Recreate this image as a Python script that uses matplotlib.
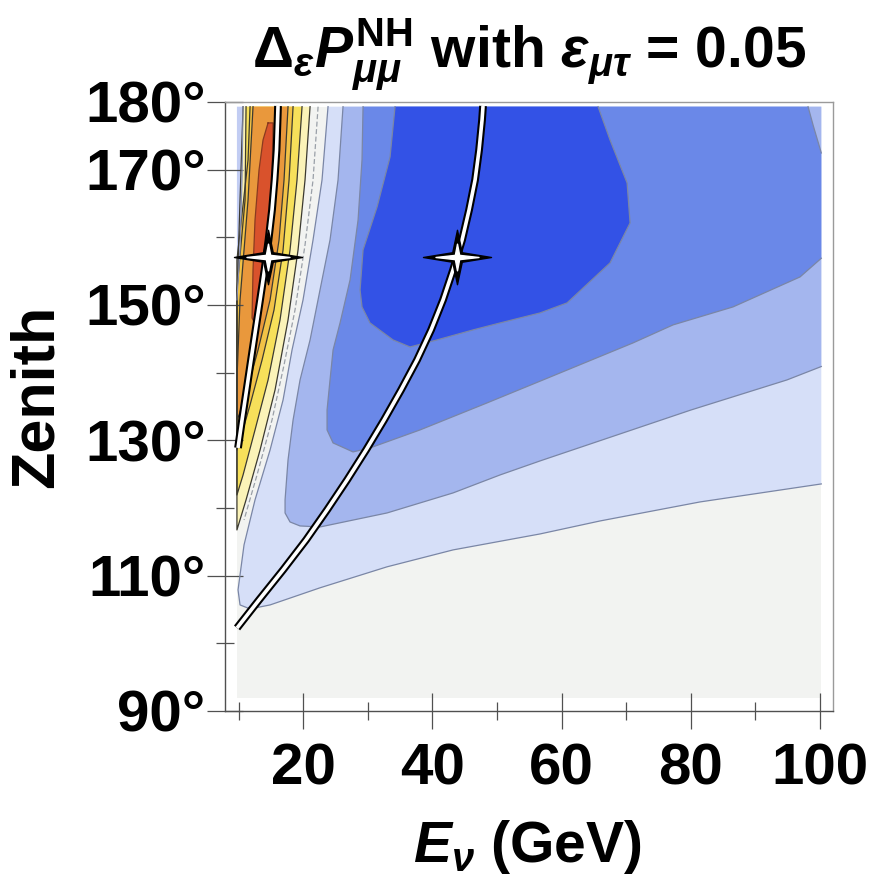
import matplotlib
matplotlib.use("Agg")
import matplotlib.pyplot as plt
from matplotlib.path import Path

plt.rcParams["font.family"] = ["Liberation Sans", "DejaVu Sans"]
plt.rcParams["font.weight"] = "bold"
plt.rcParams["mathtext.fontset"] = "custom"
plt.rcParams["mathtext.rm"] = "Liberation Sans:bold"
plt.rcParams["mathtext.it"] = "Liberation Sans:bold:italic"
plt.rcParams["mathtext.bf"] = "Liberation Sans:bold"
plt.rcParams["mathtext.fallback"] = "stixsans"

# plotted region (energy in GeV, zenith in degrees)
e_min, e_max = 9.75, 100.2
z_min, z_max = 91.9, 179.3

# blue contour levels: left arm from the top, round the tip, out to the right edge
lev1_e = [23.85, 22.92, 21.53, 19.98, 18.28, 16.89, 14.88, 12.55, 10.85, 9.92, 10.23, 11.78, 14.88, 22.61, 32.98, 43.20, 56.67, 65.96, 81.43, 100.2]
lev1_z = [179.3, 168.47, 159.61, 150.74, 143.35, 135.96, 128.57, 121.19, 114.54, 107.89, 105.67, 105.08, 105.67, 108.2, 111.3, 113.80, 116.16, 118.08, 120.89, 123.55]

lev2_e = [26.17, 25.40, 24.16, 22.61, 21.07, 19.52, 18.44, 17.66, 17.20, 17.20, 17.97, 19.52, 22.61, 32.98, 43.20, 50.48, 56.67, 80.04, 94.89, 100.2]
lev2_z = [179.3, 168.47, 159.61, 152.22, 144.83, 138.92, 133.0, 127.10, 121.19, 119.26, 117.93, 117.34, 117.19, 119.26, 122.22, 124.88, 126.95, 134.48, 138.92, 140.9]

lev3_e = [29.27, 29.11, 28.50, 27.26, 25.71, 24.63, 24.16, 23.70, 23.70, 24.63, 27.72, 30.35, 38.09, 48.46, 57.14, 71.06, 77.25, 86.54, 96.91, 100.2]
lev3_z = [179.3, 171.43, 162.56, 153.70, 147.34, 143.35, 138.92, 134.48, 131.53, 129.61, 128.28, 128.87, 131.53, 135.52, 138.92, 144.39, 147.05, 149.71, 154.14, 156.9]
# small piece of level 3 edge in the top right corner
lev3c_e = [100.2, 98.92, 98.15]
lev3c_z = [172.46, 176.6, 179.3]

lev4_e = [34.22, 33.45, 31.44, 29.27, 28.81, 29.11, 30.35, 33.91, 36.54, 40.72, 46.30, 50.48, 56.67, 60.85, 67.50, 70.60, 70.14, 67.50, 65.65]
lev4_z = [179.3, 171.87, 164.48, 158.13, 152.22, 149.71, 147.34, 144.83, 143.79, 144.83, 146.31, 147.34, 148.82, 150.30, 156.21, 162.12, 168.03, 174.38, 179.3]

# faint dashed contour inside the pale strip
dash_e = [22.31, 21.53, 20.29, 18.74, 17.04, 15.18, 12.86, 10.85]
dash_z = [179.3, 168.47, 158.87, 149.26, 141.13, 133.0, 124.88, 118.23]

# warm bands near the left edge: right arm (top -> left edge), left arm (left edge -> top)
warm1_e = [21.07, 20.29, 19.21, 17.66, 15.65, 13.33, 11.16, 9.75, 9.75, 10.23, 10.70]
warm1_z = [179.3, 168.47, 158.13, 147.78, 137.44, 128.57, 121.19, 116.75, 150.74, 165.52, 179.3]
warm2_e = [19.83, 19.05, 17.97, 16.42, 14.57, 12.55, 10.70, 9.75, 9.75, 11.01, 11.16]
warm2_z = [179.3, 168.47, 158.13, 147.78, 138.92, 131.53, 124.88, 121.92, 152.22, 165.52, 179.3]
warm3_e = [18.44, 17.82, 16.89, 15.49, 13.64, 11.78, 10.23, 9.75, 9.75, 11.47, 11.78]
warm3_z = [179.3, 168.47, 158.13, 149.26, 141.87, 135.22, 130.05, 128.57, 156.65, 171.43, 179.3]
warm4_e = [17.66, 17.04, 16.27, 14.88, 13.02, 11.32, 10.08, 9.75, 9.75, 10.23, 11.47, 12.24]
warm4_z = [179.3, 168.47, 159.61, 150.74, 143.35, 137.44, 133.75, 133.0, 138.92, 150.74, 165.52, 179.3]
warm5_e = [14.57, 15.34, 15.18, 14.88, 13.95, 13.02, 12.40, 12.09, 12.24, 12.55, 13.17, 13.79, 14.57]
warm5_z = [176.90, 176.90, 168.47, 159.61, 153.70, 149.26, 147.49, 148.08, 155.17, 162.56, 169.95, 174.38, 176.90]
# thin bluish strip at the top of the left edge
strip_e = [9.75, 10.70, 10.54, 10.23, 9.75]
strip_z = [179.3, 179.3, 168.47, 158.13, 150.74]

# the two marked curves and their stars
curve1_e = [9.92, 10.54, 11.24, 11.93, 12.63, 13.33, 14.02, 14.64, 15.18, 15.57, 15.88, 16.04, 16.11]
curve1_z = [128.87, 133.0, 137.44, 141.87, 146.31, 150.74, 155.17, 159.61, 164.04, 168.47, 172.91, 177.34, 179.4]
curve2_e = [9.77, 13.17, 16.89, 20.45, 23.70, 26.80, 29.74, 32.52, 35.15, 37.63, 39.80, 41.65, 43.20, 44.60, 45.68, 46.61, 47.23, 47.69, 47.84]
curve2_z = [102.27, 106.41, 110.84, 115.27, 119.71, 124.14, 128.57, 133.0, 137.44, 141.87, 146.31, 150.74, 155.17, 159.61, 164.04, 168.47, 172.91, 177.34, 179.4]
star_e = [14.57, 43.82]
star_z = [157.1, 157.1]

x_major = [20, 40, 60, 80, 100]
x_minor = [10, 30, 50, 70, 90]
y_major = [90, 110, 130, 150, 170, 180]
y_minor = [100, 120, 140, 160]

col_bg = "#f2f3f1"
col_blue = ["#d6dff8", "#a4b6ee", "#6a88e8", "#3352e6"]
col_warm = ["#fbf3b8", "#f7e05a", "#f2c246", "#e9983c", "#d9522c"]
col_strip = "#c2cdf3"

fig = plt.figure(figsize=(8.71, 8.81), dpi=100)
ax = fig.add_axes([0.2583, 0.1930, 0.698, 0.6913])

ax.fill([e_min, e_max, e_max, e_min], [z_min, z_min, z_max, z_max], color=col_bg, lw=0, zorder=1)

ax.fill(lev1_e + [e_max], lev1_z + [z_max], color=col_blue[0], lw=0, zorder=1)
ax.fill(lev2_e + [e_max], lev2_z + [z_max], color=col_blue[1], lw=0, zorder=1)
ax.fill(lev3_e + lev3c_e, lev3_z + lev3c_z, color=col_blue[2], lw=0, zorder=1)
ax.fill(lev4_e, lev4_z, color=col_blue[3], lw=0, zorder=1)

warm = [(warm1_e, warm1_z), (warm2_e, warm2_z), (warm3_e, warm3_z), (warm4_e, warm4_z), (warm5_e, warm5_z)]
for (we, wz), c in zip(warm, col_warm):
    ax.fill(we, wz, color=c, lw=0, zorder=1)
ax.fill(strip_e, strip_z, color=col_strip, lw=0, zorder=1)

line_blue = "#7a86a6"
for le, lz in [(lev1_e, lev1_z), (lev2_e, lev2_z), (lev3_e, lev3_z), (lev3c_e, lev3c_z), (lev4_e, lev4_z)]:
    ax.plot(le, lz, color=line_blue, lw=0.9, zorder=2)
ax.plot(dash_e, dash_z, color="#9aa0a8", lw=0.9, ls=(0, (4, 2)), zorder=2)
for we, wz in warm[:4]:
    ax.plot(we, wz, color="#3c3a30", lw=0.9, zorder=2)
ax.plot(warm5_e, warm5_z, color="#8a3a20", lw=0.9, zorder=2)
ax.plot(strip_e[1:], strip_z[1:], color="#8890b0", lw=0.8, zorder=2)

for ce, cz in [(curve1_e, curve1_z), (curve2_e, curve2_z)]:
    ax.plot(ce, cz, color="black", lw=5.6, solid_capstyle="butt", zorder=3)
    ax.plot(ce, cz, color="white", lw=2.6, solid_capstyle="butt", zorder=3)

star_black = Path([(1, 0), (0.14, 0.14), (0, 0.8), (-0.14, 0.14), (-1, 0), (-0.14, -0.14),
                   (0, -0.8), (0.14, -0.14), (1, 0)], closed=True)
star_white = Path([(1, 0), (0.1, 0.1), (0, 0.62), (-0.1, 0.1), (-1, 0), (-0.1, -0.1),
                   (0, -0.62), (0.1, -0.1), (1, 0)], closed=True)
ax.plot(star_e, star_z, ls="none", marker=star_black, ms=49, mfc="black", mec="black", zorder=4)
ax.plot(star_e, star_z, ls="none", marker=star_white, ms=31, mfc="white", mec="white", zorder=5)

ax.set_xlim(7.9, 102.0)
ax.set_ylim(90, 180)
ax.set_xticks(x_major)
ax.set_xticks(x_minor, minor=True)
ax.set_yticks(y_major)
ax.set_yticks(y_minor, minor=True)
ax.set_xticklabels([str(v) for v in x_major])
ax.set_yticklabels([f"{v}°" for v in y_major])
ax.tick_params(which="major", direction="inout", length=26, width=0.9, color="#505050",
               labelsize=42, pad=1)
ax.tick_params(which="minor", direction="inout", length=13, width=0.9, color="#505050")
ax.tick_params(axis="x", which="major", pad=10)
for s in ["left", "bottom"]:
    ax.spines[s].set_color("#505050")
for s in ["top", "right"]:
    ax.spines[s].set_color("#9a9a9a")
for s in ax.spines.values():
    s.set_linewidth(1.0)

ax.set_title(r"$\Delta_{\epsilon}P_{\mu\mu}^{\rm NH}$ with $\epsilon_{\mu\tau}$ = 0.05",
             fontsize=41, fontweight="bold", pad=25)
ax.set_xlabel(r"$E_{\nu}$ (GeV)", fontsize=41, fontweight="bold")
ax.xaxis.set_label_coords(0.497, -0.176)
ax.set_ylabel("Zenith", fontsize=44, fontweight="bold")
ax.yaxis.set_label_coords(-0.262, 0.516)

fig.savefig("out.png", dpi=100)
